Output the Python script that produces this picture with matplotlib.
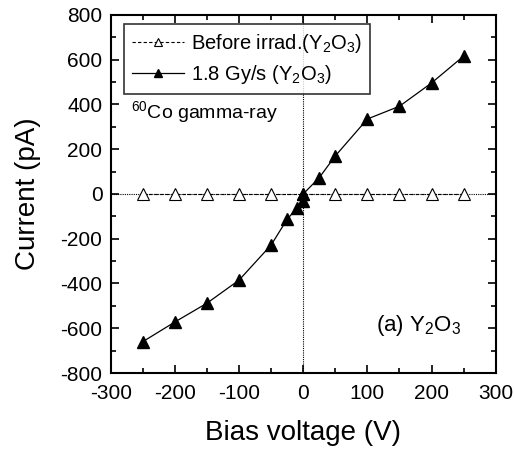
import numpy as np
import matplotlib.pyplot as plt
from matplotlib.ticker import MultipleLocator

plt.rcParams['font.family'] = ['Liberation Sans', 'DejaVu Sans']
plt.rcParams['mathtext.fontset'] = 'custom'
plt.rcParams['mathtext.rm'] = 'Liberation Sans'
plt.rcParams['axes.unicode_minus'] = False

# Before irradiation
v_before = [-250, -200, -150, -100, -50, 0, 50, 100, 150, 200, 250]
i_before = [0, 0, 0, 0, 0, 0, 0, 0, 0, 0, 0]

# 1.8 Gy/s
v_irr = [-250, -200, -150, -100, -50, -25, -10, -1, 0, 25, 50, 100, 150, 200, 250]
i_irr = [-660, -572, -488, -385, -228, -113, -64, -30, 0, 73, 170, 335, 392, 496, 616]

fig = plt.figure(figsize=(5.15, 4.53), dpi=100)
ax = fig.add_axes([0.215, 0.1766, 0.7475, 0.7904])

ax.axvline(0, color='k', lw=0.8, ls=(0, (1, 1)), zorder=1)
ax.axhline(0, color='k', lw=0.8, ls=(0, (1, 1)), zorder=1)

ax.plot(v_before, i_before, ls='--', dashes=(3, 2), lw=0.8, color='k', marker='^',
        mfc='white', mec='k', ms=8, mew=0.8, label=r'Before irrad.(Y$_2$O$_3$)', zorder=3)
ax.plot(v_irr, i_irr, ls='-', lw=0.9, color='k', marker='^',
        mfc='k', mec='k', ms=8, label=r'1.8 Gy/s (Y$_2$O$_3$)', zorder=4)

ax.set_xlim(-300, 300)
ax.set_ylim(-800, 800)
ax.xaxis.set_major_locator(MultipleLocator(100))
ax.xaxis.set_minor_locator(MultipleLocator(50))
ax.yaxis.set_major_locator(MultipleLocator(200))
ax.yaxis.set_minor_locator(MultipleLocator(100))
ax.tick_params(which='both', direction='in', top=True, right=True, labelsize=15, width=1.2)
ax.tick_params(which='major', length=6)
ax.tick_params(which='minor', length=3.5)
ax.tick_params(axis='x', which='major', pad=8)
ax.tick_params(axis='y', which='major', pad=6)
for s in ax.spines.values():
    s.set_linewidth(1.5)

ax.set_xlabel('Bias voltage (V)', fontsize=20, labelpad=12)
ax.set_ylabel('Current (pA)', fontsize=20, labelpad=14)

leg = ax.legend(loc='upper left', bbox_to_anchor=(0.034, 0.975), fontsize=14.5, frameon=True,
                fancybox=False, edgecolor='k', handlelength=2.6, borderpad=0.4,
                labelspacing=0.4, handletextpad=0.35, borderaxespad=0, markerscale=0.75)
leg.get_frame().set_linewidth(1.2)

ax.text(-268, 362, r'$^{60}$Co gamma-ray', fontsize=14, va='center')
ax.text(113, -588, r'(a) Y$_2$O$_3$', fontsize=16, va='center')

fig.savefig('out.png', dpi=100)
